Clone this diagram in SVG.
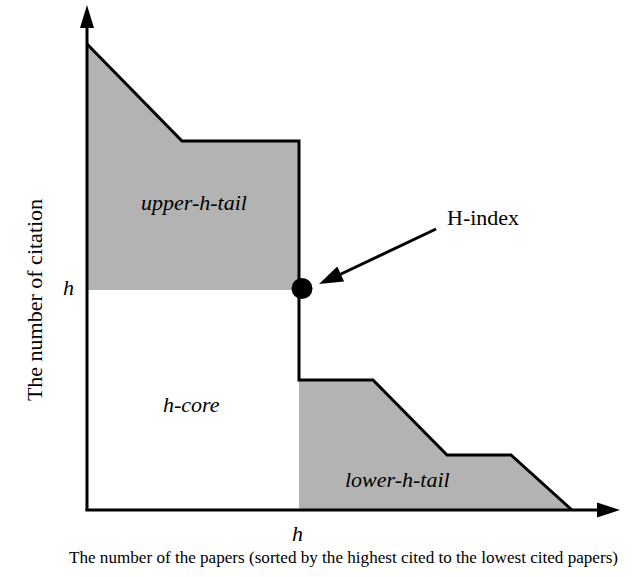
<svg xmlns="http://www.w3.org/2000/svg" width="634" height="577" viewBox="0 0 634 577">
<style>
.t{font-family:"Liberation Serif","Times New Roman",serif;fill:#000}
.i{font-style:italic}
.ln{fill:none;stroke:#000;stroke-width:3;stroke-linejoin:miter}
.fill{fill:#b3b3b3;stroke:none}
</style>
<rect width="634" height="577" fill="#fff"/>
<g id="upper-h-tail">
<polygon class="fill" points="87,44 182,141 299,141 299,290 87,290"/>
<text class="t i" x="141" y="210" font-size="22">upper-h-tail</text>
</g>
<g id="lower-h-tail">
<polygon class="fill" points="299,380 373,380 447,455 511,455 572,510 299,510"/>
<text class="t i" x="345" y="487" font-size="22">lower-h-tail</text>
</g>
<g id="h-core">
<text class="t i" x="163" y="412" font-size="22">h-core</text>
</g>
<g id="curve">
<polyline class="ln" points="87,44 182,141 299,141 299,380 373,380 447,455 511,455 572,510"/>
</g>
<g id="axes">
<line class="ln" x1="87" y1="511" x2="87" y2="25"/>
<polygon points="87,5 80,28 94,28" fill="#000"/>
<line class="ln" x1="85.5" y1="510" x2="599" y2="510"/>
<polygon points="620,510 597,502.5 597,517.5" fill="#000"/>
<text class="t i" x="63" y="295" font-size="22">h</text>
<text class="t i" x="292" y="541" font-size="22">h</text>
<text class="t" transform="translate(42,300) rotate(-90)" text-anchor="middle" font-size="22">The number of citation</text>
<text class="t" x="69" y="563" font-size="16" textLength="549" lengthAdjust="spacingAndGlyphs">The number of the papers (sorted by the highest cited to the lowest cited papers)</text>
</g>
<g id="h-index">
<circle cx="302" cy="288.5" r="10.5" fill="#000"/>
<text class="t" x="447" y="225" font-size="22">H-index</text>
</g>
<g id="connectors">
<line x1="436" y1="229" x2="340" y2="274.5" stroke="#000" stroke-width="3"/>
<polygon points="319,284 344.1,281.5 337.3,266.6" fill="#000"/>
</g>
</svg>
